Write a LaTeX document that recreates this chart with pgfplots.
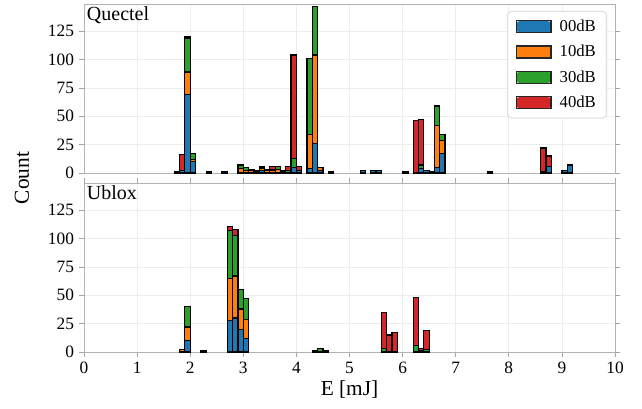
\documentclass[border=0pt]{standalone}
\usepackage{fontspec}
\setmainfont{Liberation Serif}
\usepackage{pgfplots}
\usepackage{pgfplotstable}
\pgfplotsset{compat=1.18}
\definecolor{c00}{HTML}{1F77B4}
\definecolor{c10}{HTML}{FF7F0E}
\definecolor{c30}{HTML}{2CA02C}
\definecolor{c40}{HTML}{D62728}

% columns: bin centre, 00dB, 10dB, 30dB, 40dB
\pgfplotstableread{
x a b c d
1.75 1 0 0 0
1.85 2 0 0 14
1.95 69 20 30 1
2.05 10 2 5 0
2.35 1 0 0 0
2.65 1 0 0 0
2.95 0 4 3 0
3.05 0 2 3 0
3.15 0 2 0 1
3.25 1 1 0 0
3.35 2 2 1 1
3.45 0 2 0 1
3.55 0 2 1 3
3.65 0 3 3 0
3.75 1 1 0 0
3.85 0 0 2 4
3.95 5 0 8 91
4.05 2 0 0 4
4.25 4 30 67 0
4.35 26 78 43 0
4.45 2 3 0 0
4.65 1 0 0 0
5.25 2 0 0 0
5.45 2 0 0 0
5.55 2 0 0 0
6.05 1 0 0 0
6.25 0 0 0 46
6.35 4 0 3 40
6.45 2 0 0 0
6.55 1 0 0 0
6.65 5 37 17 0
6.75 17 12 5 0
7.65 1 0 0 0
8.65 1 0 0 21
8.75 6 0 0 9
9.05 2 0 0 0
9.15 7 0 0 0
}\quectel

\pgfplotstableread{
x a b c d
1.85 0 2 0 0
1.95 10 12 18 0
2.25 1 0 0 0
2.75 28 37 42 4
2.85 30 37 36 5
2.95 20 18 17 0
3.05 12 17 18 0
4.35 0 0 1 0
4.45 0 0 3 0
4.55 0 0 1 0
5.65 0 0 3 32
5.75 0 0 0 15
5.85 0 0 0 17
6.25 0 0 6 42
6.35 0 0 1 2
6.45 0 0 2 17
}\ublox

\pgfplotsset{
  panel/.style={
    scale only axis, width=398.25pt, height=126.75pt,
    xmin=0, xmax=10, ymin=0, ymax=149,
    ybar stacked, bar width=0.1,
    ytick={0,25,...,125}, xtick={0,1,...,10},
    grid=major, major grid style={gray!15, line width=0.6pt},
    axis line style={gray!60, line width=0.6pt},
    tick style={gray!70, line width=0.6pt},
    tick align=outside, major tick length=4pt,
    ticklabel style={font=\fontsize{13}{15}\selectfont},
    /pgf/number format/assume math mode=true,
    every axis plot/.append style={draw=black, line width=0.9pt},
    axis on top=false,
  },
}

\begin{document}
\begin{tikzpicture}
\useasboundingbox (-63pt,-42pt) rectangle (418.5pt,264pt);
% bottom panel
\begin{axis}[panel, at={(0pt,0pt)}, anchor=south west,
  xlabel={E [mJ]},
  xlabel style={font=\fontsize{16}{18}\selectfont, yshift=2pt},
]
\addplot[fill=c00] table[x=x,y=a]{\ublox};
\addplot[fill=c10] table[x=x,y=b]{\ublox};
\addplot[fill=c30] table[x=x,y=c]{\ublox};
\addplot[fill=c40] table[x=x,y=d]{\ublox};
\node[anchor=north west, font=\fontsize{15}{17}\selectfont, inner sep=2pt] at (rel axis cs:0,1) {Ublox};
\end{axis}
% top panel
\begin{axis}[panel, at={(0pt,134.25pt)}, anchor=south west,
  xticklabels={}, xtick style={draw=none},
  legend style={at={(rel axis cs:0.985,0.96)}, anchor=north east,
    draw=gray!25, line width=0.8pt, rounded corners=3pt, fill=white,
    font=\fontsize{12.5}{14}\selectfont, row sep=4.8pt, column sep=4pt,
    inner xsep=6pt, inner ysep=4.5pt,
    nodes={fill=none, draw=none}},
  legend cell align=left,
  legend image code/.code={%
    \path[#1, draw=none] (0pt,-4.5pt) rectangle (26pt,4.5pt);
    \path[draw=black!85, fill=none, sharp corners, line width=1.1pt] (0pt,-4.5pt) rectangle (26pt,4.5pt);},
]
\addplot[fill=c00] table[x=x,y=a]{\quectel};
\addplot[fill=c10] table[x=x,y=b]{\quectel};
\addplot[fill=c30] table[x=x,y=c]{\quectel};
\addplot[fill=c40] table[x=x,y=d]{\quectel};
\legend{00dB,10dB,30dB,40dB}
\node[anchor=north west, font=\fontsize{15}{17}\selectfont, inner sep=2pt] at (rel axis cs:0,1) {Quectel};
\end{axis}
\node[rotate=90, font=\fontsize{16}{18}\selectfont] at (-46.5pt,130.5pt) {Count};
\end{tikzpicture}
\end{document}
